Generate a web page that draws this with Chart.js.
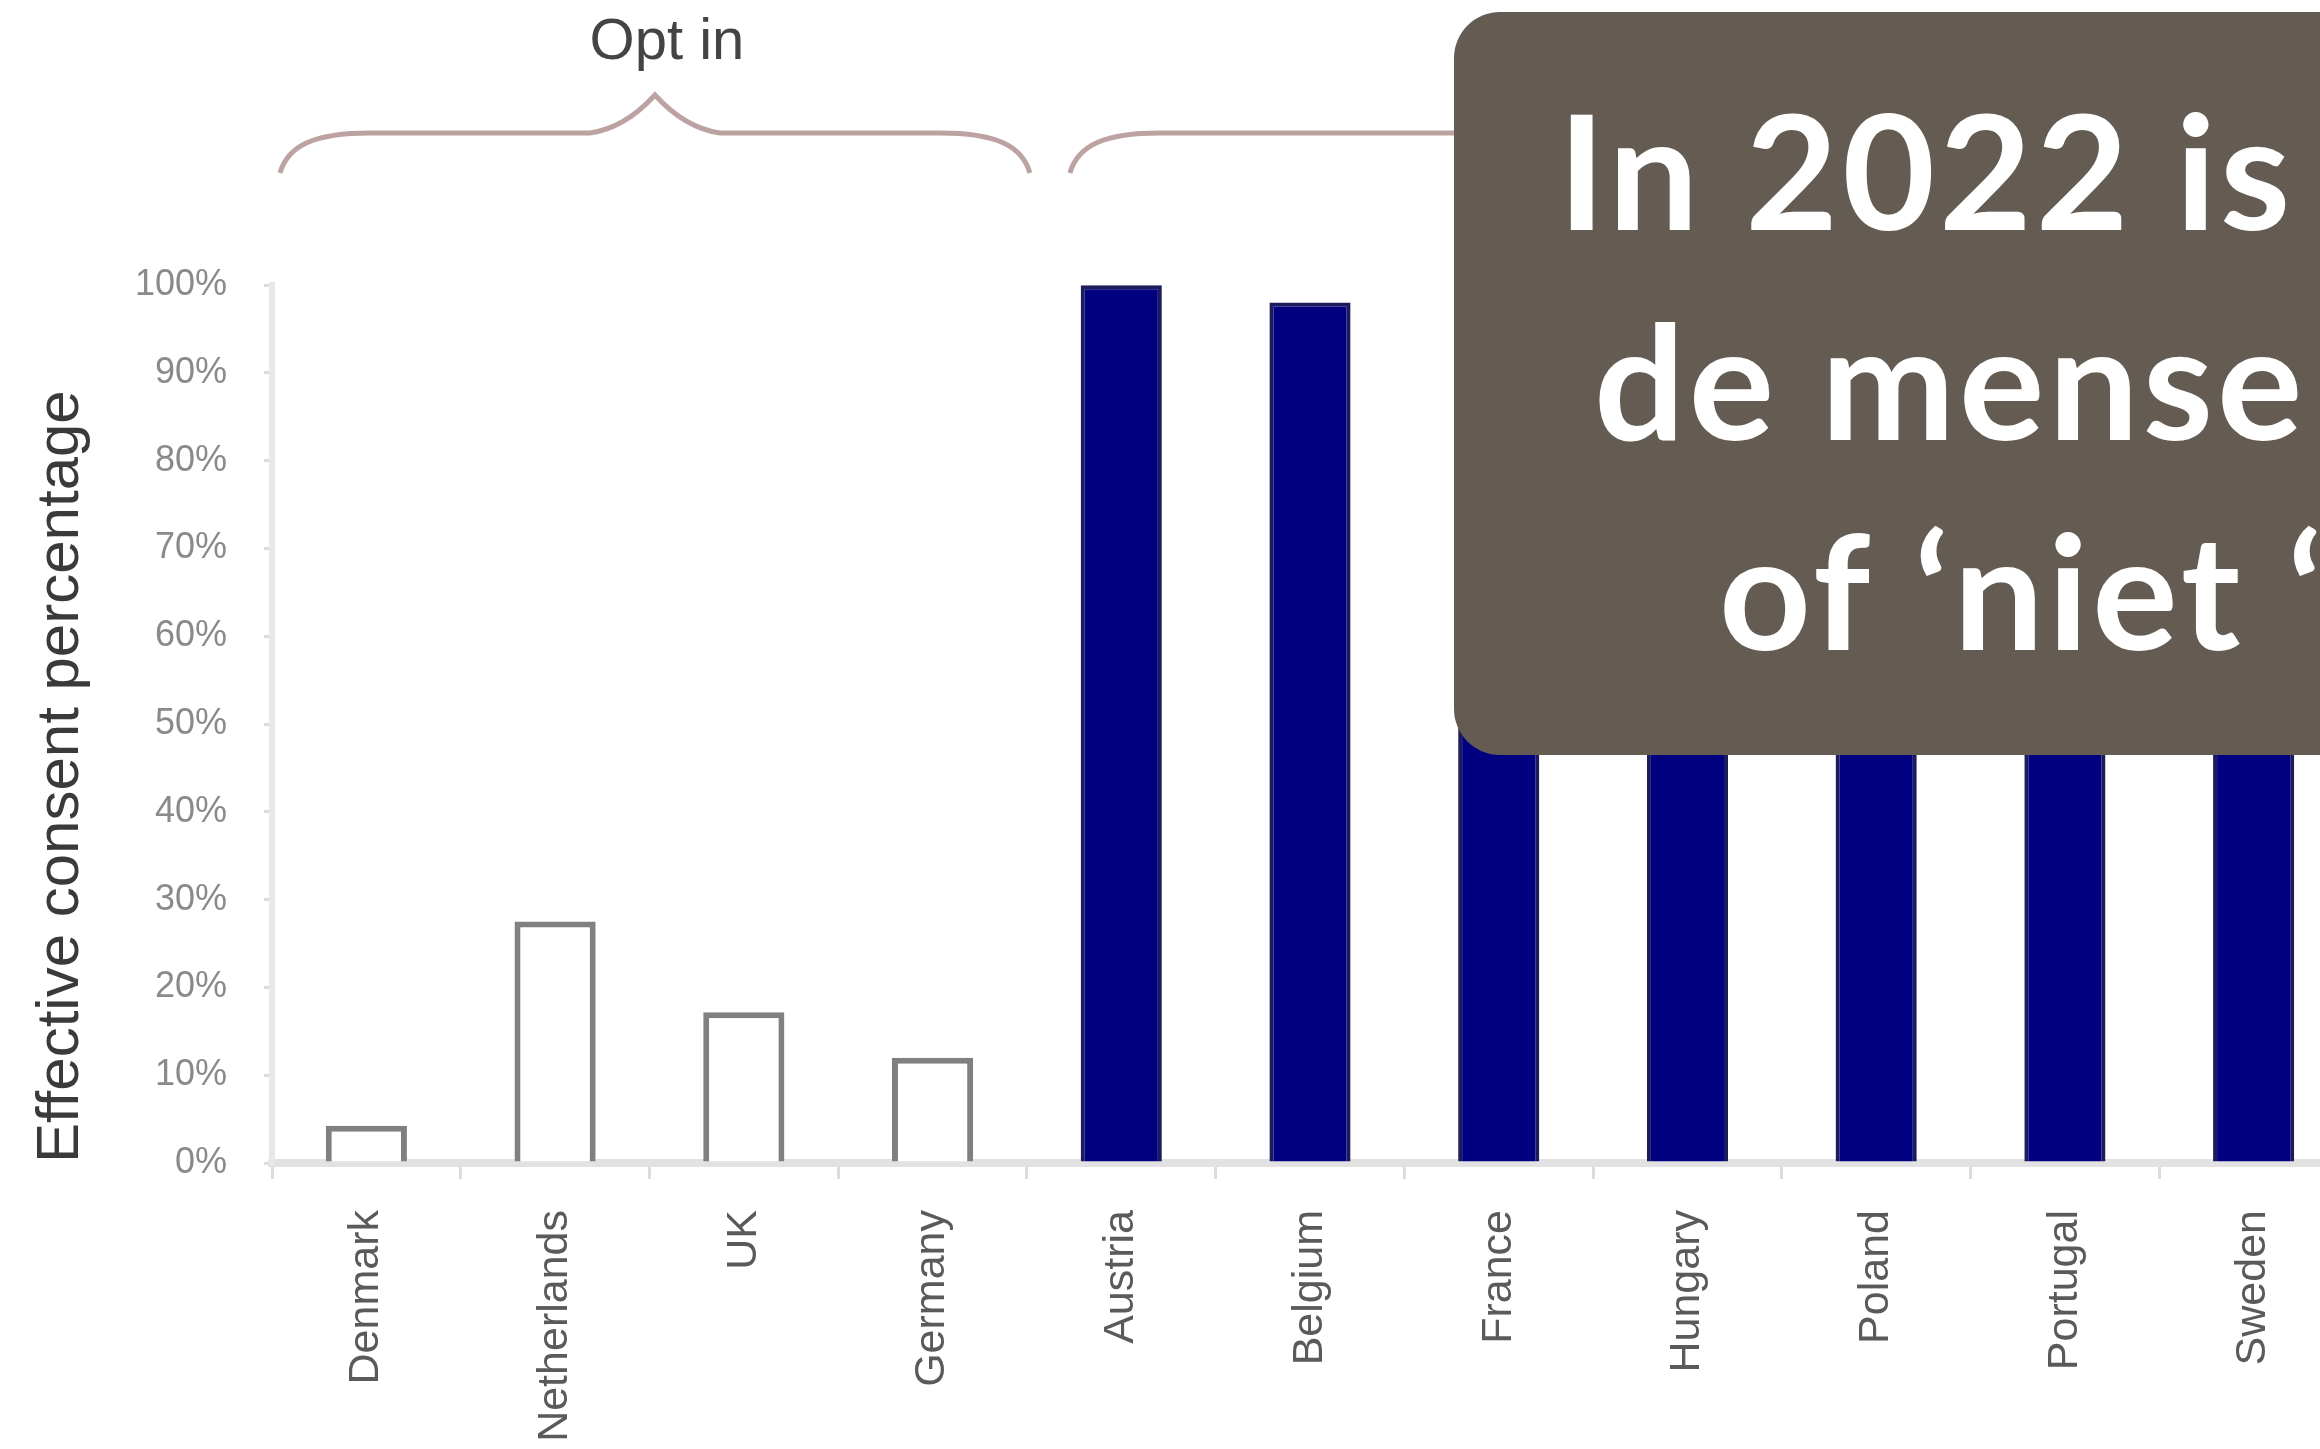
<!DOCTYPE html>
<html>
<head>
<meta charset="utf-8">
<script src="https://cdn.jsdelivr.net/npm/chart.js@4"></script>
<style>
  html, body { margin: 0; padding: 0; background: #fff; width: 2320px; height: 1449px; overflow: hidden; position: relative; }
  #chart { position: absolute; left: 0; top: 0; }
  .note {
    position: absolute; left: 1454px; top: 12px; width: 1200px; height: 743px;
    background: #645c53; border-radius: 46px;
    color: #fff; font-family: Lato, "Open Sans", sans-serif; font-weight: 700;
    font-size: 160px; line-height: 210px; white-space: nowrap; letter-spacing: 4px;
  }
  .note div { position: absolute; }
</style>
</head>
<body>
<canvas id="chart" width="2360" height="1449"></canvas>
<div class="note">
  <div style="left:104px; top:51px;">In 2022 is</div>
  <div style="left:140px; top:261px;">de mense</div>
  <div style="left:265px; top:471px;">of ‘niet ‘</div>
</div>
<script>
// data
const countries = ['Denmark', 'Netherlands', 'UK', 'Germany', 'Austria', 'Belgium', 'France', 'Hungary', 'Poland', 'Portugal', 'Sweden'];
const consent = [4.25, 27.5, 17.17, 12, 99.98, 98, 99.91, 99.997, 99.5, 99.64, 85.9];
const system = ['in', 'in', 'in', 'in', 'out', 'out', 'out', 'out', 'out', 'out', 'out'];
const groupLabels = { in: 'Opt in', out: 'Opt out' };

// curly braces with the group names above the bars
const bracesPlugin = {
    id: 'braces',
    afterDraw: function (chart) {
        const ctx = chart.ctx;
        const x = chart.scales.x;
        const half = (x.getPixelForValue(1) - x.getPixelForValue(0)) / 2;
        const groups = ['in', 'out'];
        groups.forEach(function (g) {
            const first = system.indexOf(g);
            const last = system.lastIndexOf(g);
            const x0 = x.getPixelForValue(first) - half + (g === 'in' ? 8 : 43);
            const x1 = x.getPixelForValue(last) + half + 3;
            const mid = (x0 + x1) / 2;
            const yEnd = 173, yLine = 133, yPeak = 95;
            ctx.save();
            ctx.strokeStyle = '#bda2a2';
            ctx.lineWidth = 5;
            ctx.beginPath();
            ctx.moveTo(x0, yEnd);
            ctx.bezierCurveTo(x0 + 8, yLine + 12, x0 + 35, yLine, x0 + 90, yLine);
            ctx.lineTo(mid - 65, yLine);
            ctx.quadraticCurveTo(mid - 30, yLine - 5, mid, yPeak);
            ctx.quadraticCurveTo(mid + 30, yLine - 5, mid + 65, yLine);
            ctx.lineTo(x1 - 90, yLine);
            ctx.bezierCurveTo(x1 - 35, yLine, x1 - 8, yLine + 12, x1, yEnd);
            ctx.stroke();
            ctx.fillStyle = '#444444';
            ctx.font = '58px "Liberation Sans", Arial, sans-serif';
            ctx.textAlign = 'center';
            ctx.textBaseline = 'alphabetic';
            ctx.fillText(groupLabels[g], mid + 12, 59);
            ctx.restore();
        });
    }
};

new Chart(document.getElementById('chart'), {
    type: 'bar',
    data: {
        labels: countries,
        datasets: [{
            data: consent,
            backgroundColor: function (c) { return system[c.dataIndex] === 'in' ? '#ffffff' : '#000080'; },
            borderColor: function (c) { return system[c.dataIndex] === 'in' ? '#808080' : '#1c1c5c'; },
            borderWidth: function (c) { return system[c.dataIndex] === 'in' ? 6 : 4; },
            categoryPercentage: 1,
            barPercentage: 0.43
        }]
    },
    options: {
        responsive: false,
        animation: false,
        devicePixelRatio: 1,
        layout: { padding: { left: 0, top: 285, right: 12, bottom: 0 } },
        plugins: { legend: { display: false }, tooltip: { enabled: false } },
        scales: {
            x: {
                afterFit: function (s) { s.height = 286; },
                grid: { drawOnChartArea: false, tickLength: 16, color: '#dcdcdc', lineWidth: 3 },
                border: { color: '#e2e2e2', width: 8 },
                ticks: {
                    minRotation: 90, maxRotation: 90, padding: 31,
                    color: '#5a5a5a',
                    font: { family: '"Liberation Sans", Arial, sans-serif', size: 43 }
                }
            },
            y: {
                min: 0, max: 100,
                afterFit: function (s) { s.width = 272; },
                grid: { drawOnChartArea: false, tickLength: 8, color: '#dcdcdc', lineWidth: 3 },
                border: { color: '#e8e8e8', width: 6 },
                ticks: {
                    stepSize: 10, padding: 37,
                    color: '#8a8a8a',
                    font: { family: '"Liberation Sans", Arial, sans-serif', size: 36 },
                    callback: function (v) { return v + '%'; }
                },
                title: {
                    display: true, text: 'Effective consent percentage', align: 'start',
                    color: '#3a3a3a', padding: { top: 25, bottom: 0 },
                    font: { family: '"Liberation Sans", Arial, sans-serif', size: 60 }
                }
            }
        }
    },
    plugins: [bracesPlugin]
});
</script>
</body>
</html>
